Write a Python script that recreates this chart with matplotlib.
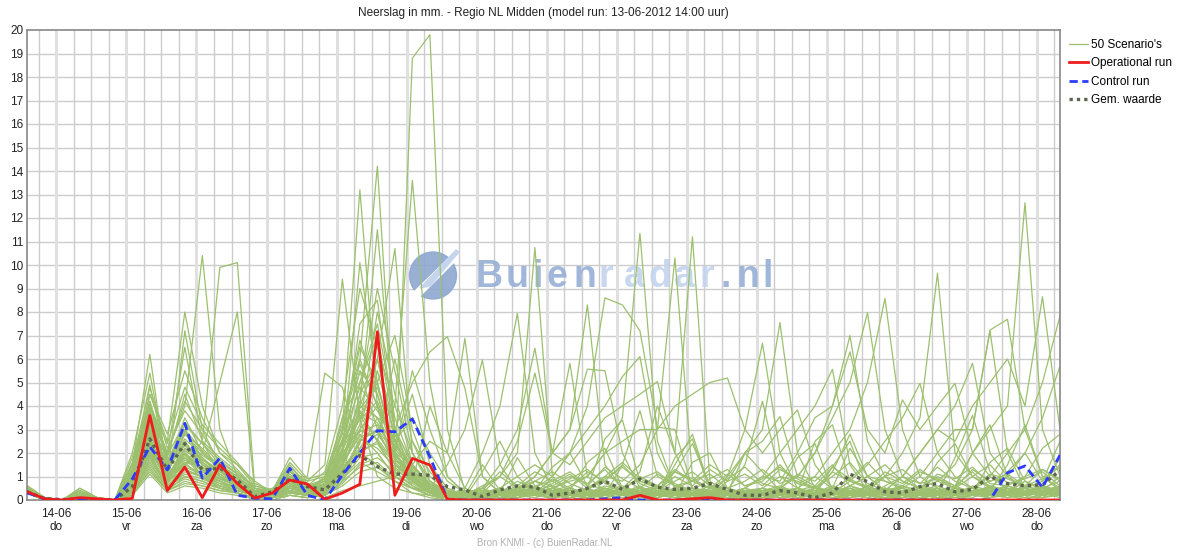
import numpy as np
import matplotlib
matplotlib.use("Agg")
import matplotlib.pyplot as plt
from matplotlib.patches import Circle, Polygon
from matplotlib.transforms import IdentityTransform
from matplotlib.lines import Line2D

plt.rcParams["font.family"] = ["Liberation Sans", "DejaVu Sans"]

# -------------------------------
# DATA (6-hourly steps, first step = 13-06 14:00)
# -------------------------------
day_labels = ["14-06", "15-06", "16-06", "17-06", "18-06", "19-06", "20-06", "21-06",
              "22-06", "23-06", "24-06", "25-06", "26-06", "27-06", "28-06"]
weekdays = ["do", "vr", "za", "zo", "ma", "di", "wo", "do",
            "vr", "za", "zo", "ma", "di", "wo", "do"]

operational = [0.35, 0.05, 0, 0.1, 0.05, 0, 0.07, 3.6, 0.4, 1.4,
               0.1, 1.5, 0.7, 0.08, 0.3, 0.85, 0.68, 0.03, 0.3, 0.67,
               7.16, 0.2, 1.77, 1.49, 0.03, 0, 0, 0, 0, 0,
               0, 0, 0, 0, 0, 0.2, 0, 0, 0.05, 0.1,
               0, 0, 0, 0, 0, 0, 0, 0, 0, 0,
               0, 0, 0, 0, 0, 0, 0, 0, 0, 0]

control = [0.3, 0.05, 0, 0.05, 0, 0, 0.9, 2.27, 1.28, 3.26,
           0.93, 1.78, 0.2, 0.08, 0.05, 1.35, 0.2, 0, 1.06, 2.0,
           2.95, 2.9, 3.45, 1.84, 0.03, 0, 0, 0, 0, 0,
           0, 0, 0, 0.05, 0.1, 0, 0, 0, 0, 0,
           0, 0, 0, 0, 0, 0, 0, 0, 0, 0,
           0, 0, 0, 0, 0, 0, 1.16, 1.45, 0.54, 1.91]

mean_values = [0.35, 0.05, 0.02, 0.06, 0.03, 0, 0.57, 2.6, 1.28, 2.4,
               1.28, 1.35, 0.85, 0.14, 0.35, 0.9, 0.57, 0.43, 1.13, 1.9,
               1.42, 1.1, 1.1, 1.05, 0.57, 0.43, 0.14, 0.43, 0.6, 0.55,
               0.2, 0.3, 0.5, 0.8, 0.45, 0.9, 0.55, 0.45, 0.5, 0.7,
               0.45, 0.2, 0.2, 0.4, 0.3, 0.1, 0.3, 1.1, 0.78, 0.35,
               0.3, 0.57, 0.7, 0.35, 0.45, 1.0, 0.7, 0.6, 0.65, 1.25]

scenarios = [
    [0.4, 0, 0, 0.1, 0, 0, 1.5, 6.2, 1.0, 2.0, 1.2, 0.8, 0.3, 0, 0.2, 0.5, 0.3, 0.1, 0.4, 0.6,
     0.8, 1.0, 18.8, 19.8, 3.0, 0.4, 0.1, 0, 0.2, 0.5, 0.3, 0, 0.1, 0.4, 0.2, 0, 0.1, 0.3, 0.1, 0,
     0.2, 0.1, 0, 0.3, 0.1, 0, 0, 0.4, 0.2, 0, 0.1, 0.3, 0.2, 0, 0.1, 0.4, 0.2, 0, 0.3, 0.1],
    [0.3, 0, 0, 0, 0, 0, 0.8, 3.5, 2.0, 4.0, 10.4, 3.0, 1.0, 0.2, 0.1, 0.8, 0.3, 0.5, 2.0, 6.0,
     14.2, 2.5, 0.8, 0.3, 0.1, 0, 0.2, 0.5, 0.1, 0.3, 0.1, 0.2, 0.5, 1.0, 0.8, 1.5, 3.0, 10.3, 1.0, 0.2,
     0.1, 0, 0.2, 0.5, 0.3, 0.1, 0, 0.2, 0.6, 0.3, 0, 0.1, 0.4, 0.2, 0, 0.1, 0.3, 0.5, 0.2, 0.4],
    [0.5, 0.1, 0, 0.3, 0, 0, 0.5, 2.5, 1.0, 1.5, 2.5, 9.9, 10.1, 0.5, 0.2, 1.0, 0.5, 0.2, 3.0, 13.2,
     4.0, 1.0, 0.5, 0.2, 0, 0.1, 0, 0.3, 0.8, 0.5, 0.2, 0.1, 0, 0.3, 0.5, 1.2, 4.0, 2.0, 11.2, 0.8,
     0.3, 0.1, 0, 0.2, 0.4, 0.1, 0, 0.3, 0.2, 0.1, 0.2, 0, 0.3, 0.1, 0.2, 0.5, 0.3, 0.2, 0.1, 0.6],
    [0.4, 0, 0, 0.2, 0, 0, 1.0, 4.5, 2.5, 8.0, 4.0, 2.0, 1.5, 0.8, 0.3, 1.5, 0.6, 0.3, 1.0, 4.0,
     11.5, 3.0, 1.5, 0.5, 0.2, 0.1, 0, 0.2, 0.3, 0.8, 0.4, 0.6, 1.0, 2.0, 3.5, 11.35, 2.5, 0.5, 0.2, 0.1,
     0, 0.1, 0.3, 0.2, 0, 0.1, 0.2, 0.5, 0.3, 0.1, 0.3, 0.2, 0.1, 0, 0.2, 0.6, 0.4, 0.3, 0.5, 0.2],
    [0.3, 0, 0, 0, 0, 0, 0.3, 2.0, 0.5, 1.5, 2.0, 5.0, 8.0, 0.3, 0.1, 0.4, 0.2, 0.3, 1.5, 3.0,
     6.0, 10.7, 2.0, 0.8, 0.3, 0.1, 0.2, 0, 0.1, 0.3, 0.5, 0.2, 0.1, 0.3, 0.2, 0.5, 0.3, 0.1, 0, 0.2,
     0.4, 0.2, 0.1, 0.5, 0.3, 0.1, 0.2, 0.6, 1.0, 1.5, 0.8, 0.5, 1.0, 0.6, 2.0, 3.0, 4.0, 12.65, 3.0, 1.0],
    [0.6, 0.1, 0, 0.5, 0.1, 0, 2.0, 5.4, 1.5, 3.0, 1.5, 1.0, 0.6, 0.3, 0.2, 1.2, 0.8, 1.5, 9.4, 3.5,
     1.0, 0.5, 0.3, 0.1, 0, 0.2, 0.5, 1.0, 2.0, 10.74, 1.0, 0.3, 0.2, 0.1, 0, 0.3, 0.5, 0.2, 0.1, 0.3,
     0.2, 0, 0.1, 0.3, 0.5, 0.2, 0.1, 0.3, 0.1, 0, 0.2, 0.4, 0.1, 0.3, 0.5, 0.2, 0.1, 0.3, 0.6, 0.4],
    [0.4, 0, 0, 0.1, 0, 0, 0.6, 3.0, 1.0, 7.2, 3.0, 1.5, 1.0, 0.4, 0.3, 0.8, 0.4, 0.6, 2.0, 10.1,
     5.0, 2.0, 1.0, 0.5, 0.2, 0, 0.1, 0.3, 0.2, 0.5, 1.0, 2.0, 4.0, 8.6, 8.3, 7.2, 3.1, 3.0, 0.5, 0.2,
     0.1, 0, 0.2, 0.4, 0.1, 0, 0.3, 0.2, 0.1, 0.4, 0.2, 0.1, 0, 0.3, 0.2, 0.4, 0.1, 0.2, 0.3, 0.5],
    [0.5, 0.1, 0, 0.2, 0, 0, 1.2, 4.0, 2.0, 6.5, 2.5, 1.0, 0.5, 0.3, 0.5, 1.0, 1.0, 5.4, 4.8, 2.0,
     1.5, 0.8, 0.3, 0.2, 0.1, 0.3, 0.2, 0.1, 0.5, 1.0, 2.0, 3.0, 8.3, 1.5, 0.5, 0.2, 0.1, 0.3, 0.2, 0.1,
     0, 0.2, 0.3, 0.1, 0.2, 0.5, 0.3, 0.1, 0.4, 1.0, 2.0, 3.5, 9.65, 2.0, 1.0, 0.5, 0.3, 0.8, 0.4, 0.2],
    [0.3, 0, 0, 0, 0, 0, 0.4, 2.2, 0.8, 2.0, 1.0, 0.5, 0.3, 0.1, 0.2, 0.6, 0.3, 0.4, 1.0, 2.5,
     3.0, 4.0, 13.6, 5.0, 1.0, 0.3, 0.1, 0.2, 0.4, 0.2, 0.1, 0.3, 0.5, 0.2, 0.1, 0, 0.2, 0.4, 0.3, 0.1,
     0.3, 0.1, 0.2, 0.4, 0.2, 0.1, 0.3, 0.5, 0.2, 0.4, 0.3, 0.5, 0.8, 1.5, 3.0, 7.2, 2.0, 0.5, 0.3, 0.6],
    [0.4, 0, 0, 0.3, 0, 0, 0.5, 2.8, 1.2, 2.5, 1.5, 1.2, 0.8, 0.2, 0.3, 0.5, 0.4, 1.0, 2.5, 4.0,
     3.5, 3.0, 5.0, 6.3, 6.95, 4.76, 1.0, 0.3, 0.2, 0.1, 0.3, 0.2, 0.1, 0.4, 0.3, 0.2, 0.1, 0.3, 0.5, 0.2,
     0.8, 2.0, 3.0, 7.55, 2.0, 0.5, 0.3, 0.2, 0.1, 0.3, 0.2, 0.1, 0.3, 0.5, 0.2, 0.4, 0.6, 0.3, 0.2, 0.5],
    [0.5, 0, 0, 0.1, 0, 0, 0.7, 3.2, 1.5, 3.5, 2.0, 1.5, 0.6, 0.4, 0.2, 0.9, 0.5, 0.8, 3.5, 6.0,
     4.0, 2.0, 1.5, 2.5, 2.0, 6.88, 1.0, 0.3, 0.5, 0.2, 0.1, 0.2, 0.3, 0.1, 0, 0.2, 0.4, 0.2, 0.1, 0.3,
     0.2, 0.5, 1.0, 0.8, 2.0, 3.5, 4.0, 7.0, 2.5, 1.0, 0.3, 0.2, 0.4, 0.1, 0.3, 0.5, 0.2, 0.4, 0.6, 0.3],
    [0.3, 0.1, 0, 0, 0, 0, 0.2, 1.8, 0.6, 1.0, 0.8, 0.5, 0.4, 0.2, 0.1, 0.3, 0.2, 0.5, 1.2, 2.0,
     2.5, 1.5, 1.0, 0.5, 1.5, 3.0, 5.96, 1.5, 0.4, 0.2, 0.3, 0.1, 0.2, 0.5, 0.3, 0.1, 0.2, 0.3, 0.1, 0.2,
     0.4, 0.2, 0.1, 0.3, 0.5, 1.0, 2.0, 3.0, 5.0, 8.58, 3.0, 1.0, 0.5, 0.3, 0.2, 0.4, 0.3, 0.1, 0.5, 0.2],
    [0.4, 0, 0, 0.2, 0, 0, 1.0, 3.8, 1.0, 2.2, 1.8, 1.0, 0.5, 0.3, 0.4, 0.7, 0.3, 0.6, 2.0, 5.0,
     7.0, 3.0, 1.0, 0.4, 0.2, 0.5, 2.0, 4.0, 7.94, 2.0, 0.5, 0.3, 0.1, 0.2, 0.4, 0.2, 0.1, 0.3, 0.5, 0.2,
     0.1, 0.3, 0.2, 0.5, 1.0, 2.0, 3.5, 5.0, 7.97, 3.0, 1.0, 0.5, 0.3, 0.2, 0.4, 0.1, 0.3, 0.2, 0.5, 0.3],
    [0.5, 0.1, 0, 0.4, 0, 0, 0.9, 4.2, 1.8, 4.5, 2.5, 1.8, 1.2, 0.5, 0.3, 1.2, 0.6, 0.4, 1.8, 3.5,
     5.0, 2.0, 0.8, 0.3, 0.1, 0.2, 0.5, 1.5, 3.0, 6.46, 2.0, 5.82, 1.0, 0.4, 0.2, 0.1, 0.3, 0.2, 0.1, 0.4,
     0.2, 0.5, 1.0, 2.0, 3.0, 4.0, 5.56, 1.5, 0.4, 0.2, 0.1, 0.3, 0.2, 0.4, 0.5, 0.3, 0.2, 0.4, 0.1, 0.3],
    [0.3, 0, 0, 0, 0, 0, 0.4, 2.5, 0.8, 1.8, 1.0, 0.8, 0.5, 0.2, 0.1, 0.4, 0.2, 0.3, 1.5, 4.5,
     6.0, 2.5, 1.2, 0.5, 0.3, 0.1, 0.3, 1.0, 2.5, 5.4, 2.0, 3.0, 5.57, 5.5, 2.0, 0.5, 0.2, 0.1, 0.3, 0.2,
     0.1, 0.2, 0.4, 0.3, 0.1, 0.2, 0.5, 0.3, 0.2, 0.6, 1.0, 2.0, 3.0, 2.5, 4.0, 5.0, 6.0, 4.0, 8.65, 3.0],
    [0.4, 0, 0, 0.1, 0, 0, 0.6, 3.0, 1.4, 2.8, 2.2, 1.4, 0.9, 0.3, 0.2, 0.8, 0.5, 0.9, 2.5, 5.5,
     4.5, 2.0, 1.0, 0.3, 0.2, 0.4, 0.2, 0.5, 1.0, 1.5, 1.0, 2.0, 3.0, 4.0, 5.25, 6.1, 2.0, 0.5, 0.3, 0.2,
     1.0, 3.0, 6.67, 2.0, 0.5, 0.2, 0.1, 0.3, 0.2, 0.4, 0.3, 0.1, 0.2, 0.5, 0.3, 0.6, 0.4, 0.2, 0.3, 0.5],
    [0.5, 0, 0, 0.3, 0, 0, 1.3, 4.8, 2.2, 3.8, 2.8, 1.6, 1.1, 0.6, 0.4, 1.4, 0.7, 0.5, 1.2, 2.5,
     3.0, 1.5, 0.9, 0.3, 0.1, 0.3, 0.5, 0.2, 0.4, 1.0, 2.0, 1.5, 2.5, 3.5, 4.0, 4.5, 5.04, 2.0, 0.5, 0.3,
     0.2, 0.1, 0.3, 0.5, 0.4, 0.2, 0.3, 0.8, 1.5, 2.5, 3.5, 4.96, 2.0, 1.0, 0.5, 1.0, 2.0, 3.0, 5.0, 7.83],
    [0.3, 0, 0, 0, 0, 0, 0.2, 1.5, 0.5, 1.2, 1.0, 0.6, 0.4, 0.2, 0.1, 0.3, 0.3, 0.2, 0.8, 2.2,
     3.5, 1.8, 0.8, 0.4, 0.2, 0.1, 0.3, 0.2, 0.1, 0.3, 0.5, 0.8, 1.0, 2.0, 2.5, 3.0, 3.0, 4.0, 4.5, 5.0,
     5.19, 3.0, 2.0, 3.0, 3.83, 1.5, 0.5, 0.3, 0.2, 0.4, 1.0, 2.0, 3.0, 4.0, 5.82, 2.0, 1.0, 0.5, 0.8, 1.5],
    [0.4, 0, 0, 0.2, 0, 0, 0.8, 3.5, 0.8, 2.5, 1.2, 0.9, 0.6, 0.3, 0.2, 0.6, 0.4, 0.7, 1.8, 3.8,
     2.5, 1.2, 0.6, 0.2, 0.1, 0.2, 0.4, 0.3, 0.6, 1.2, 0.8, 0.4, 0.3, 0.2, 0.5, 0.3, 0.2, 0.5, 0.8, 1.5,
     1.0, 2.0, 2.5, 3.55, 1.0, 2.0, 4.0, 6.31, 3.0, 2.0, 4.26, 3.0, 4.0, 4.96, 2.0, 1.0, 0.5, 0.3, 0.4, 1.0],
    [0.5, 0.1, 0, 0.1, 0, 0, 0.5, 2.0, 1.0, 1.6, 1.4, 1.0, 0.7, 0.4, 0.3, 0.9, 0.5, 0.8, 1.5, 2.8,
     2.0, 1.0, 0.5, 0.4, 0.2, 0.1, 0.2, 0.4, 0.3, 0.8, 0.6, 0.3, 0.5, 0.8, 0.4, 0.2, 0.3, 0.1, 0.2, 0.5,
     0.3, 0.2, 0.5, 1.0, 0.8, 0.5, 0.3, 0.6, 1.0, 0.8, 0.5, 1.0, 2.0, 3.0, 3.0, 7.23, 7.69, 3.0, 1.0, 0.5],
    [0.3, 0, 0, 0, 0, 0, 0.3, 1.2, 0.4, 0.8, 0.6, 0.4, 0.3, 0.1, 0, 0.2, 0.1, 0.3, 0.9, 1.6,
     1.2, 0.8, 0.5, 0.2, 0.1, 0, 0.1, 0.2, 0.5, 0.3, 0.2, 0.1, 0.3, 0.5, 0.2, 0.1, 0.4, 0.8, 1.2, 0.6,
     0.4, 0.2, 0.1, 0.3, 0.2, 0.5, 0.4, 0.2, 0.6, 0.3, 0.2, 0.4, 0.6, 0.3, 0.5, 0.8, 1.0, 2.0, 3.5, 5.7],
    [0.4, 0, 0, 0.3, 0, 0, 1.5, 4.9, 1.5, 3.0, 1.6, 1.1, 0.7, 0.3, 0.2, 0.7, 0.4, 0.6, 2.2, 7.5,
     8.5, 3.0, 1.0, 0.4, 0.2, 0.1, 0.3, 0.2, 0.4, 0.2, 0.1, 0.3, 0.2, 0.4, 0.6, 0.3, 0.2, 1.5, 2.8, 0.5,
     0.2, 0.1, 0.3, 0.2, 0.4, 0.6, 0.3, 0.1, 0.2, 0.4, 0.6, 0.3, 0.2, 0.5, 0.4, 0.2, 0.3, 0.6, 0.4, 0.2],
    [0.5, 0.1, 0, 0.1, 0, 0, 0.9, 4.5, 2.8, 5.5, 3.5, 2.0, 1.3, 0.5, 0.3, 1.0, 0.6, 1.2, 4.0, 9.0,
     6.5, 4.0, 2.0, 0.8, 0.3, 0.2, 0.1, 0.3, 0.2, 0.5, 0.4, 0.2, 0.1, 0.3, 0.2, 0.4, 0.6, 0.3, 0.2, 0.1,
     0.3, 0.5, 0.2, 0.1, 0.3, 2.5, 3.2, 0.8, 0.5, 0.3, 0.1, 0.3, 0.5, 0.2, 0.6, 0.4, 0.2, 0.3, 0.5, 0.8],
    [0.3, 0, 0, 0, 0, 0, 0.4, 2.0, 0.6, 1.4, 1.1, 0.7, 0.4, 0.2, 0.1, 0.5, 0.3, 0.4, 1.3, 4.5,
     9.0, 5.5, 2.0, 0.6, 0.2, 0.3, 0.2, 0.1, 0.3, 0.6, 0.3, 0.5, 0.2, 0.1, 0.3, 0.2, 0.5, 0.4, 0.2, 0.3,
     0.5, 0.3, 0.2, 0.4, 0.1, 0.3, 0.2, 0.5, 0.3, 0.2, 0.4, 0.2, 0.3, 1.8, 3.6, 1.2, 0.4, 0.2, 0.6, 0.3],
    [0.4, 0, 0, 0.2, 0, 0, 0.7, 3.6, 1.2, 2.8, 2.0, 1.3, 0.8, 0.4, 0.3, 0.8, 0.5, 0.9, 3.0, 6.5,
     5.0, 7.0, 3.0, 1.0, 0.4, 0.2, 0.3, 0.5, 0.2, 0.4, 0.2, 0.3, 0.4, 0.2, 1.5, 3.8, 1.0, 0.6, 0.4, 0.2,
     0.1, 0.4, 0.3, 0.2, 0.5, 0.3, 0.6, 0.4, 0.2, 0.5, 0.3, 0.6, 0.4, 0.2, 0.3, 0.5, 0.2, 0.4, 0.3, 0.6],
    [0.5, 0.1, 0, 0.4, 0.1, 0, 1.1, 3.0, 0.9, 2.0, 1.3, 0.9, 0.6, 0.2, 0.2, 0.6, 0.3, 0.5, 1.8, 3.2,
     8.0, 4.5, 1.5, 0.5, 0.3, 0.1, 1.2, 2.5, 1.0, 0.3, 0.5, 0.2, 0.3, 0.6, 0.4, 0.2, 0.1, 0.3, 0.5, 0.4,
     0.2, 0.3, 0.5, 0.3, 0.2, 0.1, 0.3, 0.2, 0.4, 0.3, 0.5, 0.2, 0.4, 0.6, 0.3, 0.2, 0.5, 0.3, 0.2, 0.4],
    [0.3, 0, 0, 0, 0, 0, 0.3, 1.6, 0.5, 0.9, 0.7, 0.5, 0.3, 0.1, 0.1, 0.3, 0.2, 0.4, 1.0, 2.0,
     3.0, 2.0, 5.5, 3.0, 1.0, 0.3, 0.1, 0.2, 0.4, 0.2, 0.1, 0.2, 0.4, 0.3, 0.2, 0.5, 0.3, 0.2, 0.1, 0.3,
     0.4, 1.5, 4.2, 1.0, 0.5, 0.2, 0.3, 0.4, 0.2, 0.1, 0.3, 0.5, 0.2, 0.4, 0.3, 0.1, 0.4, 0.5, 0.3, 0.2],
    [0.4, 0, 0, 0.1, 0, 0, 0.6, 2.6, 1.0, 2.2, 1.5, 1.0, 0.6, 0.3, 0.2, 0.5, 0.3, 0.6, 2.5, 5.5,
     3.0, 1.5, 0.8, 0.3, 0.5, 0.2, 0.4, 0.3, 0.2, 0.5, 0.3, 0.4, 0.2, 0.5, 0.3, 0.6, 0.2, 0.4, 0.3, 0.2,
     0.3, 0.2, 0.4, 0.6, 0.3, 0.2, 0.5, 0.3, 0.4, 0.2, 0.2, 0.4, 1.6, 2.4, 1.0, 0.6, 0.3, 0.2, 0.4, 0.5],
    [0.6, 0.1, 0, 0.5, 0.1, 0, 1.8, 4.2, 1.6, 3.2, 2.4, 1.5, 1.0, 0.4, 0.3, 1.1, 0.5, 0.7, 1.5, 4.0,
     6.0, 3.0, 1.5, 0.6, 0.3, 0.4, 0.2, 0.5, 0.3, 0.2, 0.4, 0.3, 0.5, 2.6, 3.4, 0.8, 0.5, 0.2, 0.3, 0.6,
     0.3, 0.4, 0.2, 0.5, 0.3, 0.4, 0.2, 0.6, 0.3, 0.2, 0.4, 0.3, 0.5, 0.2, 0.4, 0.3, 0.6, 0.4, 0.2, 0.3],
    [0.3, 0, 0, 0, 0, 0, 0.5, 1.9, 0.7, 1.6, 0.9, 0.6, 0.4, 0.2, 0.1, 0.4, 0.2, 0.3, 1.1, 2.6,
     2.2, 1.4, 0.7, 4.0, 2.0, 0.5, 0.2, 0.1, 0.3, 0.4, 0.2, 0.1, 0.3, 0.4, 0.2, 0.1, 0.3, 0.5, 0.2, 0.3,
     0.2, 0.4, 0.3, 0.1, 0.2, 0.3, 0.5, 2.2, 1.0, 0.4, 0.2, 0.3, 0.1, 0.4, 0.2, 0.3, 0.5, 0.2, 0.4, 0.3],
    [0.4, 0, 0, 0.2, 0, 0, 1.0, 3.3, 1.3, 2.4, 1.7, 1.2, 0.9, 0.5, 0.4, 1.3, 0.6, 0.9, 2.0, 3.0,
     4.0, 2.5, 3.5, 2.0, 0.8, 0.3, 0.2, 0.4, 0.3, 0.5, 0.3, 0.2, 0.1, 0.3, 0.5, 0.4, 0.2, 1.8, 2.6, 0.4,
     0.3, 0.2, 0.4, 0.3, 0.2, 0.5, 0.3, 0.4, 0.2, 0.3, 0.6, 0.4, 0.2, 0.3, 0.5, 0.2, 0.3, 0.4, 0.5, 0.3],
    [0.5, 0, 0, 0.1, 0, 0, 0.4, 2.3, 0.9, 1.9, 1.2, 0.8, 0.5, 0.3, 0.2, 0.5, 0.4, 0.3, 1.4, 2.2,
     2.8, 1.8, 1.0, 0.5, 0.3, 0.2, 0.3, 0.2, 0.4, 0.3, 0.7, 1.1, 0.5, 0.9, 1.4, 0.8, 0.6, 1.2, 0.9, 0.5,
     0.4, 0.3, 0.2, 0.5, 0.3, 0.2, 0.4, 0.3, 0.5, 0.2, 0.3, 0.5, 0.4, 0.2, 0.3, 0.4, 1.5, 3.2, 1.0, 0.4],
    [0.3, 0, 0, 0, 0, 0, 0.2, 1.1, 0.3, 0.6, 0.5, 0.3, 0.2, 0.1, 0, 0.2, 0.1, 0.2, 0.7, 1.5,
     1.8, 1.2, 0.6, 0.3, 0.1, 0.2, 0.1, 0.3, 1.8, 0.6, 0.8, 1.2, 0.6, 1.4, 0.9, 0.5, 1.1, 0.7, 0.4, 0.9,
     1.3, 0.6, 0.8, 1.5, 0.7, 1.0, 0.5, 0.9, 1.6, 0.8, 0.6, 1.2, 0.9, 0.5, 1.3, 0.8, 1.1, 0.6, 0.9, 1.4],
    [0.4, 0.1, 0, 0.3, 0, 0, 1.4, 3.9, 2.0, 4.2, 3.0, 2.2, 1.5, 0.6, 0.4, 1.6, 0.8, 1.0, 2.8, 6.8,
     4.5, 2.0, 1.0, 0.4, 0.2, 0.3, 0.5, 0.2, 0.4, 0.3, 0.5, 0.3, 0.2, 0.4, 0.3, 0.5, 0.2, 0.4, 0.3, 0.2,
     0.4, 0.3, 0.5, 0.2, 0.4, 0.3, 1.2, 2.8, 1.0, 0.4, 0.3, 0.2, 0.4, 0.3, 0.5, 0.4, 0.3, 0.2, 0.4, 0.6],
    [0.5, 0, 0, 0.2, 0, 0, 0.9, 2.9, 1.1, 2.0, 1.4, 0.9, 0.6, 0.2, 0.3, 0.7, 0.3, 0.5, 3.5, 5.0,
     7.5, 3.5, 1.5, 0.7, 0.3, 0.1, 0.3, 0.2, 0.5, 0.4, 0.2, 0.5, 0.3, 0.2, 0.4, 0.2, 0.3, 1.2, 2.4, 0.6,
     0.5, 0.2, 0.3, 0.4, 0.2, 0.5, 0.3, 0.2, 0.4, 0.3, 0.4, 0.3, 0.2, 0.5, 0.3, 0.4, 0.2, 0.3, 0.5, 0.2],
    [0.3, 0, 0, 0, 0, 0, 0.6, 2.1, 0.8, 1.3, 1.0, 0.7, 0.5, 0.2, 0.2, 0.4, 0.2, 0.4, 1.6, 3.6,
     2.5, 6.0, 2.5, 0.8, 0.4, 0.2, 0.1, 0.3, 0.2, 0.5, 0.3, 0.2, 0.4, 0.3, 0.2, 0.4, 0.5, 0.3, 0.2, 0.3,
     0.2, 0.4, 0.3, 0.2, 0.5, 0.3, 0.4, 0.2, 0.3, 0.5, 0.2, 0.4, 0.3, 0.5, 2.0, 3.2, 1.0, 0.5, 0.2, 0.3],
    [0.4, 0, 0, 0.1, 0, 0, 1.2, 3.4, 1.7, 3.0, 2.1, 1.3, 0.8, 0.4, 0.3, 0.9, 0.4, 0.7, 2.2, 4.2,
     3.5, 2.2, 4.5, 1.5, 0.5, 0.2, 1.5, 0.4, 0.2, 0.3, 0.4, 0.2, 0.3, 0.5, 0.2, 0.3, 0.2, 0.4, 0.5, 0.2,
     0.3, 2.0, 1.2, 0.4, 0.3, 0.2, 0.5, 0.3, 0.2, 0.4, 0.5, 0.2, 0.3, 0.4, 0.2, 0.5, 0.3, 0.4, 0.3, 0.5],
    [0.5, 0.1, 0, 0.4, 0, 0, 0.8, 2.4, 0.7, 1.7, 1.3, 0.8, 0.5, 0.3, 0.2, 0.6, 0.4, 0.3, 1.2, 2.4,
     5.5, 2.8, 1.3, 0.5, 0.2, 0.4, 0.2, 0.3, 0.4, 0.2, 0.3, 0.4, 1.6, 2.2, 0.5, 0.2, 0.4, 0.3, 0.2, 0.4,
     0.2, 0.3, 0.4, 0.2, 0.3, 0.5, 0.2, 0.4, 0.3, 0.2, 0.4, 0.3, 0.5, 0.2, 0.3, 0.2, 0.4, 0.3, 0.5, 0.4],
    [0.3, 0, 0, 0, 0, 0, 0.3, 1.4, 0.4, 1.0, 0.8, 0.5, 0.3, 0.1, 0.1, 0.3, 0.2, 0.3, 0.9, 1.8,
     2.0, 1.0, 0.7, 0.3, 0.1, 0.2, 0.6, 1.0, 0.5, 0.8, 1.2, 0.7, 0.4, 1.0, 1.6, 0.9, 0.6, 1.3, 0.8, 0.5,
     0.9, 1.4, 0.7, 0.5, 1.1, 0.8, 1.5, 0.6, 0.4, 1.0, 1.3, 0.7, 0.9, 0.6, 1.2, 0.5, 0.3, 1.0, 2.2, 2.8],
    [0.4, 0, 0, 0.2, 0, 0, 1.6, 4.0, 2.4, 4.8, 3.2, 2.4, 1.6, 0.7, 0.4, 1.8, 0.9, 1.1, 3.2, 5.8,
     4.0, 2.5, 1.2, 0.5, 0.3, 0.2, 0.4, 0.3, 0.5, 0.2, 0.4, 0.3, 0.5, 0.2, 0.3, 0.4, 0.3, 0.2, 1.6, 2.0,
     0.5, 0.3, 0.2, 0.4, 0.3, 0.5, 0.2, 0.3, 0.4, 0.2, 0.3, 0.4, 0.2, 0.5, 0.3, 0.2, 0.4, 0.5, 0.3, 0.2],
    [0.5, 0, 0, 0.1, 0, 0, 0.5, 2.7, 0.9, 2.1, 1.6, 1.1, 0.7, 0.3, 0.2, 0.5, 0.3, 0.4, 1.9, 2.9,
     3.2, 2.0, 1.1, 0.6, 0.3, 0.1, 0.2, 0.4, 0.3, 0.2, 0.5, 0.3, 0.2, 0.4, 0.3, 0.2, 0.5, 0.3, 0.4, 0.2,
     0.3, 0.2, 0.4, 0.5, 0.2, 0.3, 1.4, 2.5, 0.5, 0.3, 0.2, 0.5, 0.3, 0.2, 0.4, 0.3, 0.5, 0.2, 0.3, 0.4],
    [0.3, 0, 0, 0, 0, 0, 0.3, 1.7, 0.6, 1.1, 0.9, 0.6, 0.4, 0.2, 0.1, 0.3, 0.2, 0.2, 0.8, 1.4,
     1.6, 0.9, 2.5, 1.2, 0.4, 0.1, 0.2, 0.1, 0.3, 0.2, 0.5, 0.9, 1.3, 0.7, 0.4, 1.0, 0.6, 1.2, 0.8, 0.5,
     1.1, 0.6, 0.9, 1.4, 0.7, 0.5, 1.2, 0.8, 0.6, 1.0, 0.7, 1.3, 0.8, 0.5, 1.0, 1.5, 0.7, 0.9, 1.2, 0.6],
    [0.4, 0.1, 0, 0.3, 0, 0, 1.1, 3.1, 1.4, 2.6, 1.9, 1.4, 1.0, 0.4, 0.3, 1.0, 0.5, 0.6, 2.4, 3.4,
     4.2, 2.2, 1.2, 0.5, 0.3, 0.2, 0.3, 0.5, 0.2, 0.4, 0.3, 0.5, 0.3, 0.2, 0.4, 0.3, 0.2, 0.5, 0.3, 0.4,
     0.2, 0.4, 0.3, 0.5, 0.3, 0.2, 0.4, 0.3, 0.2, 0.5, 0.4, 0.3, 0.5, 0.2, 0.3, 1.6, 2.2, 0.8, 0.5, 1.8],
    [0.5, 0, 0, 0.2, 0, 0, 0.7, 2.2, 0.8, 1.5, 1.1, 0.8, 0.5, 0.2, 0.2, 0.4, 0.3, 0.5, 1.5, 3.0,
     2.6, 1.6, 0.9, 0.4, 0.2, 0.3, 0.1, 0.2, 0.4, 0.3, 0.9, 0.5, 1.2, 0.8, 1.5, 0.7, 0.4, 1.0, 0.6, 1.3,
     0.8, 1.1, 0.6, 1.3, 0.9, 0.5, 1.0, 1.6, 0.7, 0.4, 1.0, 0.7, 1.4, 0.8, 0.5, 1.1, 0.9, 0.6, 1.3, 0.8],
    [0.3, 0, 0, 0, 0, 0, 0.9, 3.7, 1.9, 3.3, 2.4, 1.7, 1.1, 0.5, 0.3, 1.2, 0.6, 0.8, 2.6, 4.8,
     3.8, 2.6, 1.4, 0.7, 0.3, 0.2, 0.4, 1.2, 0.6, 0.5, 0.4, 0.2, 0.3, 0.5, 0.3, 0.2, 0.4, 0.3, 0.5, 0.3,
     0.4, 0.3, 0.2, 0.4, 0.5, 0.3, 0.2, 0.4, 0.3, 0.5, 0.3, 0.2, 0.4, 0.3, 0.2, 0.5, 0.4, 0.3, 0.2, 0.4],
    [0.4, 0, 0, 0.1, 0, 0, 0.4, 1.9, 0.6, 1.3, 1.0, 0.6, 0.4, 0.2, 0.1, 0.4, 0.2, 0.3, 1.3, 2.1,
     2.4, 1.3, 0.8, 0.3, 0.1, 0.2, 0.1, 0.3, 0.2, 0.4, 0.6, 1.0, 0.7, 1.3, 0.5, 0.9, 1.2, 0.6, 0.8, 1.1,
     0.5, 0.8, 1.3, 0.7, 1.0, 0.6, 1.4, 0.9, 0.5, 1.2, 0.8, 0.5, 1.1, 0.9, 1.4, 0.7, 0.6, 1.0, 1.3, 0.9],
    [0.5, 0.1, 0, 0.3, 0.1, 0, 1.3, 4.1, 1.1, 2.9, 1.8, 1.2, 0.7, 0.3, 0.2, 0.8, 0.4, 0.7, 2.1, 3.7,
     3.3, 1.9, 1.1, 0.4, 0.2, 0.3, 0.2, 0.4, 0.3, 0.2, 0.4, 0.3, 0.5, 0.2, 0.4, 0.3, 0.2, 0.3, 0.4, 0.2,
     0.3, 0.5, 0.3, 0.2, 0.4, 0.3, 0.5, 0.2, 0.3, 0.4, 0.5, 0.3, 0.2, 0.4, 0.3, 0.5, 1.2, 2.0, 0.8, 2.5],
    [0.3, 0, 0, 0, 0, 0, 0.2, 1.3, 0.4, 0.7, 0.6, 0.4, 0.3, 0.1, 0.1, 0.2, 0.1, 0.2, 0.6, 1.2,
     1.4, 0.8, 0.5, 0.2, 0.1, 0.1, 0.2, 0.1, 0.1, 0.2, 0.1, 0.2, 0.1, 0.2, 0.1, 0.1, 0.2, 0.1, 0.2, 0.1,
     0.2, 0.1, 0.1, 0.2, 0.1, 0.2, 0.1, 0.1, 0.2, 0.1, 0.1, 0.2, 0.1, 0.1, 0.2, 0.1, 0.2, 0.1, 0.1, 0.2],
    [0.4, 0, 0, 0.2, 0, 0, 0.8, 3.0, 1.5, 2.3, 1.7, 1.3, 0.9, 0.4, 0.3, 0.9, 0.5, 0.6, 1.7, 3.9,
     4.8, 2.3, 1.4, 0.6, 0.4, 0.3, 0.2, 0.5, 0.3, 0.4, 1.4, 2.0, 0.6, 0.5, 0.3, 0.4, 0.3, 0.2, 0.4, 0.3,
     0.2, 0.4, 0.5, 0.3, 0.2, 0.4, 0.3, 0.5, 0.2, 0.4, 0.3, 0.4, 0.2, 0.5, 0.3, 0.2, 0.5, 0.3, 0.4, 0.2],
    [0.5, 0, 0, 0.1, 0, 0, 0.6, 2.4, 1.0, 1.8, 1.3, 0.9, 0.6, 0.3, 0.2, 0.6, 0.3, 0.4, 1.6, 2.7,
     2.9, 1.7, 1.0, 0.4, 0.2, 0.2, 0.3, 0.2, 0.4, 0.3, 0.2, 0.3, 0.4, 0.2, 0.3, 0.5, 0.2, 0.4, 0.3, 0.2,
     0.4, 0.2, 0.3, 0.5, 1.8, 2.4, 0.4, 0.2, 0.3, 0.5, 0.2, 0.3, 0.5, 0.2, 0.4, 0.3, 0.2, 0.5, 0.3, 0.4],
]

steps = np.arange(len(operational))
day_ticks = 5 / 3 + 4 * np.arange(len(day_labels))   # 00:00 of each day
six_hour_lines = 2 / 3 + np.arange(59)

# -------------------------------
# FIGURE
# -------------------------------
fig = plt.figure(figsize=(11.8, 5.5), dpi=100)
ax = fig.add_axes([27.3 / 1180, 50 / 550, (1060 - 27.3) / 1180, 470 / 550])

for xv in six_hour_lines:
    ax.axvline(xv, color="#cccccc", lw=1.0, zorder=0.5)
for xv in day_ticks:
    ax.axvline(xv, color="#e0e0e0", lw=2.2, zorder=0.6)
for yv in range(1, 20):
    ax.axhline(yv, color="#cccccc", lw=1.0, zorder=0.5)

for row in scenarios:
    ax.plot(steps, row, color="#9cc06e", lw=0.9, zorder=2)
ax.plot(steps, mean_values, color="#5e6650", lw=2.4, ls=(0, (1, 1.2)), zorder=3)
ax.plot(steps, control, color="#2b3bff", lw=2.0, ls=(0, (3, 1.6)), zorder=4)
ax.plot(steps, operational, color="#ee1c1c", lw=2.0, zorder=5)

ax.set_xlim(0, 59)
ax.set_ylim(0, 20)
ax.set_yticks(range(0, 21))
ax.set_yticklabels([str(v) for v in range(0, 21)], fontsize=8.5, color="#222222")
ax.set_xticks(day_ticks)
ax.set_xticklabels([d + "\n" + w for d, w in zip(day_labels, weekdays)],
                   fontsize=8.5, color="#222222", linespacing=1.05)
ax.tick_params(length=0, pad=3)
ax.tick_params(axis="x", pad=6)
for s in ax.spines.values():
    s.set_color("#888888")
    s.set_linewidth(1.2)

# -------------------------------
# WATERMARK
# -------------------------------
H = 550
ax.add_patch(Circle((433, H - 275.5), 23.5, transform=IdentityTransform(),
                    color="#8ea8d0", alpha=0.9, zorder=1.5))
ax.add_patch(Polygon([(413, H - 293), (418, H - 298), (458, H - 258), (452, H - 255)],
                     closed=True, transform=IdentityTransform(), color="white", zorder=1.6))
ax.add_patch(Polygon([(420, H - 288), (456, H - 250), (459, H - 252), (430, H - 286)],
                     closed=True, transform=IdentityTransform(), color="#c5d5ee", zorder=1.7))
letters = ["B", "u", "i", "e", "n", "r", "a", "d", "a", "r", ".", "n", "l"]
letter_x = [489, 517, 538, 557, 585, 606, 634, 660, 684, 707, 726, 748, 768]
letter_c = ["#97afd6"] * 5 + ["#c3d4ee"] * 5 + ["#97afd6"] * 3
for ch, xp, c in zip(letters, letter_x, letter_c):
    ax.text(xp, H - 277, ch, transform=IdentityTransform(), fontsize=27,
            fontweight="bold", color=c, ha="center", va="center", alpha=0.9, zorder=1.5)

# -------------------------------
# TITLE, LEGEND, FOOTER
# -------------------------------
fig.text(543 / 1180, 1 - 13 / 550,
         "Neerslag in mm. - Regio NL Midden (model run: 13-06-2012 14:00 uur)",
         ha="center", va="center", fontsize=8.5, color="#222222")
fig.text(545 / 1180, 1 - 543 / 550, "Bron KNMI - (c) BuienRadar.NL",
         ha="center", va="center", fontsize=7, color="#b0b0b0")

handles = [
    Line2D([], [], color="#9cc06e", lw=0.9),
    Line2D([], [], color="#ee1c1c", lw=2.0),
    Line2D([], [], color="#2b3bff", lw=2.0, ls=(0, (3, 1.6))),
    Line2D([], [], color="#5e6650", lw=2.4, ls=(0, (1, 1.2))),
]
fig.legend(handles, ["50 Scenario's", "Operational run", "Control run", "Gem. waarde"],
           loc="upper left", bbox_to_anchor=(1064 / 1180, 1 - 34 / 550),
           frameon=False, fontsize=8.5, handlelength=1.6, handletextpad=0.3,
           labelspacing=0.55, borderaxespad=0)

fig.savefig("out.png", dpi=100)
plt.close(fig)
